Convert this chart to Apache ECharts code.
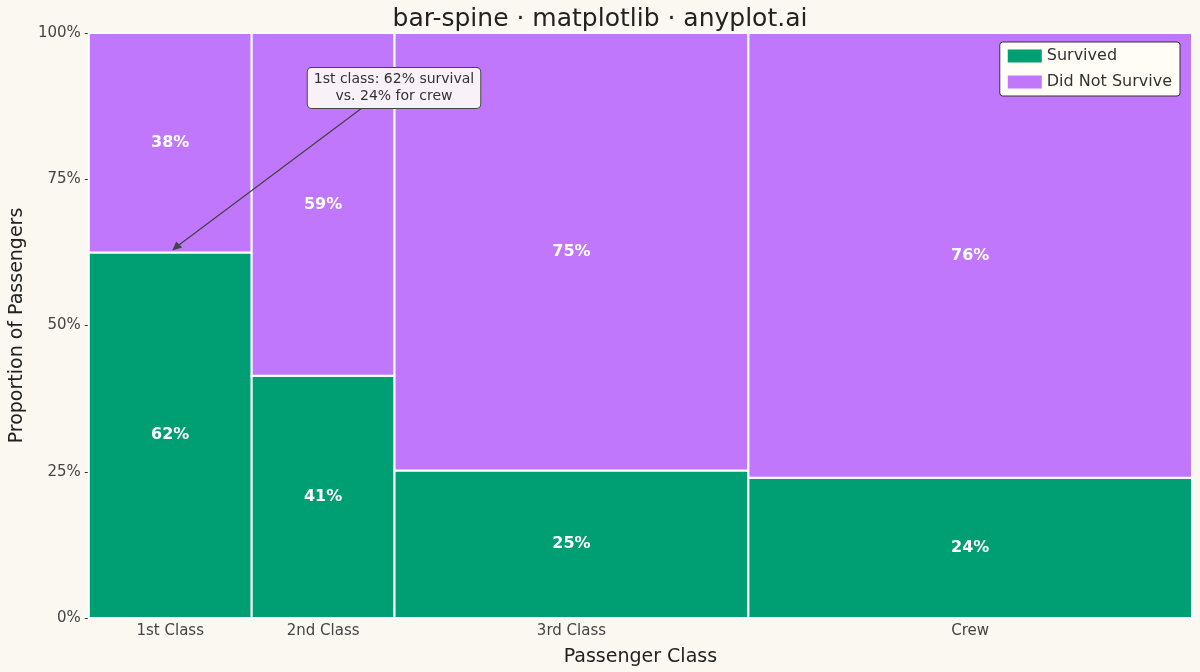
<!DOCTYPE html>
<html><head><meta charset="utf-8">
<script src="https://cdn.jsdelivr.net/npm/echarts@6/dist/echarts.min.js"></script>
<style>html,body{margin:0;background:#faf8f1}#c{width:1200px;height:672px}</style>
</head><body><div id="c"></div>
<script>
const categories = ['1st Class','2nd Class','3rd Class','Crew'];
const totals = [325, 285, 706, 885];
const survived = [203, 118, 178, 212];
const green = '#009e73', purple = '#c077fb';
const N = totals.reduce((a,b)=>a+b,0);
const starts = []; let acc = 0;
totals.forEach(t=>{starts.push(acc); acc+=t;});
const rows = categories.map((c,i)=>{
  const p = survived[i]/totals[i]*100;
  return [starts[i], starts[i]+totals[i], p];
});
const mids = rows.map(r=>(r[0]+r[1])/2);
function makeSeries(name, color, which){
  return {
    type:'custom', name, itemStyle:{color},
    data: rows,
    encode:{x:[0,1], y:2},
    renderItem(params, api){
      const x0=api.value(0), x1=api.value(1), p=api.value(2);
      const lo = which===0?0:p, hi = which===0?p:100;
      const a = api.coord([x0,hi]), b = api.coord([x1,lo]);
      const pct = which===0?Math.round(p):Math.round(100-p);
      return {type:'group', children:[
        {type:'rect', shape:{x:a[0],y:a[1],width:b[0]-a[0],height:b[1]-a[1]},
         style:{fill:color, stroke:'#ffffff', lineWidth:2}},
        {type:'text', style:{text:pct+'%', x:(a[0]+b[0])/2, y:(a[1]+b[1])/2,
          align:'center', verticalAlign:'middle', fill:'#fff', font:'bold 16px DejaVu Sans'}}
      ]};
    }
  };
}
const chart = echarts.init(document.getElementById('c'));
chart.setOption({
  backgroundColor:'#faf8f1',
  title:{text:'bar-spine · matplotlib · anyplot.ai', left:'center', top:2,
    textStyle:{fontFamily:'DejaVu Sans', fontSize:25, fontWeight:'normal', color:'#222'}},
  legend:{top:42, right:20, orient:'vertical', itemWidth:34, itemHeight:13, itemGap:10,
    backgroundColor:'#fffdf6', borderColor:'#333', borderWidth:1, borderRadius:3, padding:[6,8],
    textStyle:{fontFamily:'DejaVu Sans', fontSize:16, color:'#333'},
    data:[{name:'Survived',icon:'rect'},{name:'Did Not Survive',icon:'rect'}]},
  grid:{left:84, right:8, top:33, bottom:52},
  xAxis:{type:'value', min:0, max:N, name:'Passenger Class', nameLocation:'middle', nameGap:30,
    nameTextStyle:{fontFamily:'DejaVu Sans', fontSize:19, color:'#222'},
    splitLine:{show:false}, axisTick:{show:false},
    axisLine:{lineStyle:{color:'#333'}},
    axisLabel:{customValues:mids, fontFamily:'DejaVu Sans', fontSize:15, color:'#444', margin:6,
      formatter:(v)=>{const i=mids.findIndex(m=>Math.abs(m-v)<1); return i>=0?categories[i]:'';}}},
  yAxis:{type:'value', min:0, max:100, interval:25, name:'Proportion of Passengers',
    nameLocation:'middle', nameGap:60,
    nameTextStyle:{fontFamily:'DejaVu Sans', fontSize:19, color:'#222'},
    axisLine:{show:true, lineStyle:{color:'#333'}}, axisTick:{show:true, length:4},
    axisLabel:{formatter:'{value}%', fontFamily:'DejaVu Sans', fontSize:15, color:'#444'},
    splitLine:{show:false}},
  series:[makeSeries('Survived', green, 0), makeSeries('Did Not Survive', purple, 1)]
});
const tgt = chart.convertToPixel({gridIndex:0}, [mids[0], survived[0]/totals[0]*100]);
const bx = 394, by = 88;
chart.setOption({graphic:[
  {type:'line', shape:{x1:362, y1:108, x2:tgt[0]+4, y2:tgt[1]-4}, style:{stroke:'#444', lineWidth:1.3}, z:100},
  {type:'polygon', shape:{points:[[tgt[0]+2,tgt[1]-2],[tgt[0]+12,tgt[1]-5],[tgt[0]+6,tgt[1]-11]]}, style:{fill:'#444'}, z:100},
  {type:'text', x:bx, y:by, z:101, style:{text:'1st class: 62% survival\nvs. 24% for crew', align:'center', verticalAlign:'middle',
    font:'14px DejaVu Sans', fill:'#333', lineHeight:17, backgroundColor:'#f8f1f8', borderColor:'#444', borderWidth:1, borderRadius:4, padding:[3,6]}}
]});
</script></body></html>
